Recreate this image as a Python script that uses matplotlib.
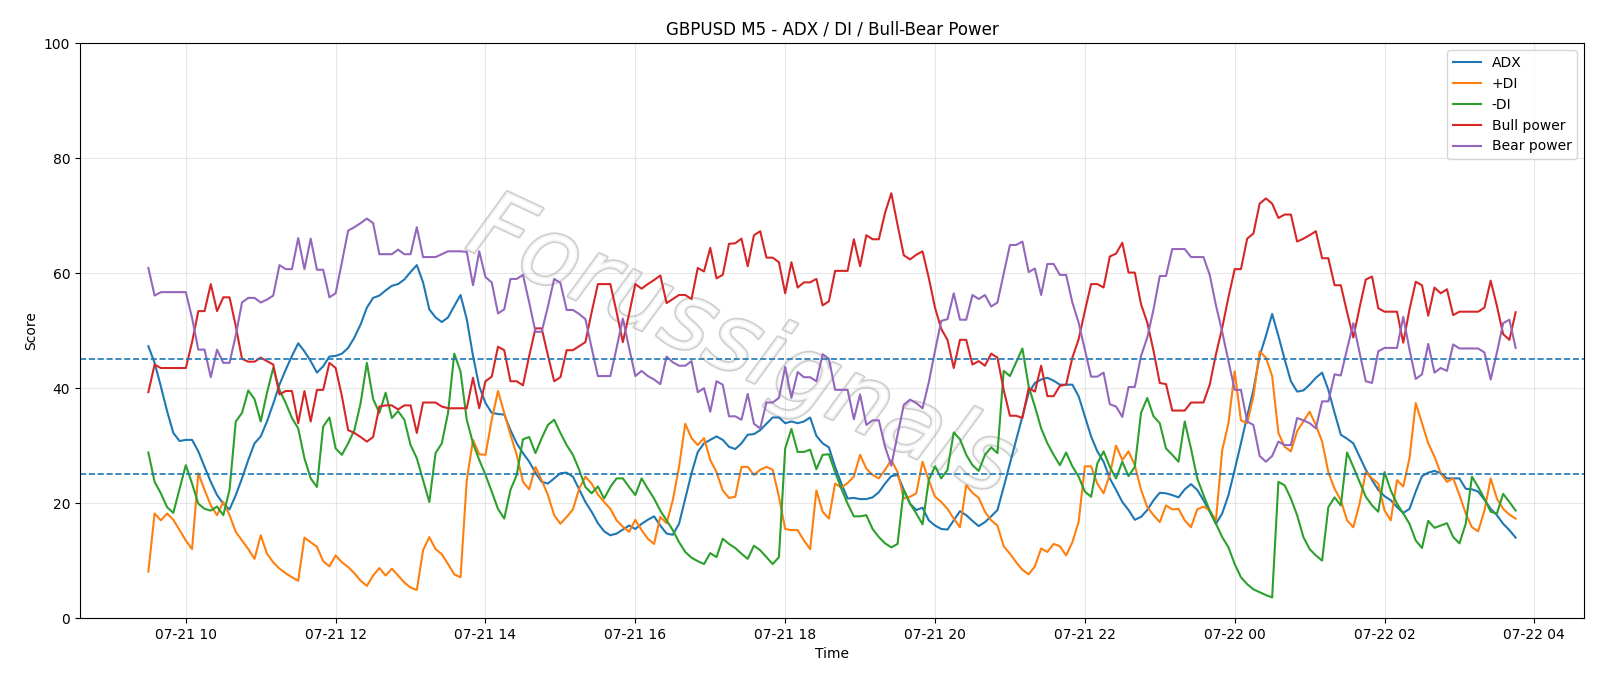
import pandas as pd
import matplotlib.pyplot as plt
import matplotlib.dates as mdates
import matplotlib.patheffects as pe

start_time = '2025-07-21 09:30'
n_bars = 220

adx = [47.3, 44.4, 40.3, 36.0, 32.2, 30.8, 31.0, 31.0, 29.0, 26.3, 23.7, 21.4, 19.9, 18.9, 21.4, 24.3, 27.5, 30.4, 31.6, 34.2,
       37.3, 40.6, 43.2, 45.6, 47.8, 46.4, 44.7, 42.7, 43.8, 45.5, 45.6, 46.0, 47.0, 48.8, 51.1, 54.0, 55.7, 56.1, 57.0, 57.8,
       58.1, 58.9, 60.2, 61.4, 58.4, 53.7, 52.3, 51.5, 52.3, 54.3, 56.2, 52.0, 45.6, 40.3, 37.4, 35.7, 35.5, 35.4, 32.7, 30.4,
       28.7, 27.2, 25.3, 23.7, 23.4, 24.3, 25.2, 25.3, 24.6, 22.4, 20.2, 18.5, 16.5, 15.1, 14.4, 14.7, 15.4, 16.1, 15.5, 16.4,
       17.1, 17.7, 16.1, 14.7, 14.5, 16.4, 20.8, 25.2, 28.9, 30.4, 31.0, 31.6, 31.0, 29.8, 29.4, 30.4, 31.9, 32.0, 32.7, 33.8,
       34.9, 34.9, 33.9, 34.2, 33.9, 34.2, 34.9, 31.7, 30.4, 29.7, 26.3, 23.4, 20.8, 20.9, 20.7, 20.7, 21.0, 21.9, 23.4, 24.7,
       24.9, 22.3, 19.9, 18.8, 19.2, 17.0, 16.1, 15.5, 15.4, 17.0, 18.6, 17.9, 16.9, 16.0, 16.7, 17.7, 18.8, 22.8, 26.9, 31.0,
       35.1, 39.2, 40.9, 41.5, 41.8, 41.3, 40.6, 40.6, 40.6, 38.6, 35.1, 31.6, 29.0, 27.2, 24.3, 22.3, 20.2, 18.8, 17.1, 17.6,
       18.8, 20.5, 21.8, 21.7, 21.4, 21.0, 22.4, 23.3, 22.3, 20.5, 18.5, 16.4, 18.2, 21.4, 25.8, 30.4, 35.1, 39.7, 45.6, 49.1,
       52.9, 49.1, 45.0, 41.2, 39.4, 39.6, 40.6, 41.8, 42.7, 39.7, 35.7, 31.9, 31.2, 30.4, 28.1, 25.8, 24.0, 22.3, 21.2, 20.5,
       19.3, 18.3, 19.0, 22.0, 24.7, 25.3, 25.6, 25.2, 24.3, 24.3, 24.3, 22.5, 22.4, 22.0, 20.6, 19.0, 17.9, 16.4, 15.3, 14.0]

plus_di = [8.1, 18.2, 17.0, 18.2, 17.1, 15.3, 13.5, 12.0, 25.2, 22.3, 19.6, 17.9, 20.2, 17.9, 15.0, 13.5, 12.0, 10.3, 14.4, 11.2,
           9.7, 8.6, 7.8, 7.1, 6.5, 14.0, 13.2, 12.4, 9.9, 9.0, 10.9, 9.7, 8.9, 7.8, 6.5, 5.6, 7.4, 8.7, 7.4, 8.6,
           7.4, 6.2, 5.3, 4.9, 11.8, 14.1, 12.0, 11.1, 9.4, 7.6, 7.1, 24.0, 31.0, 28.5, 28.4, 34.5, 39.5, 35.7, 31.9, 28.4,
           23.7, 22.4, 26.3, 24.0, 21.4, 17.9, 16.4, 17.6, 18.9, 22.5, 24.6, 23.4, 21.5, 20.2, 19.0, 17.0, 15.9, 15.0, 17.1, 15.3,
           13.8, 12.9, 17.6, 16.5, 20.5, 26.3, 33.8, 31.3, 30.1, 31.3, 27.5, 25.4, 22.2, 20.9, 21.1, 26.3, 26.3, 24.9, 25.8, 26.3,
           25.8, 21.1, 15.5, 15.3, 15.3, 13.5, 12.0, 22.2, 18.5, 17.3, 23.4, 22.7, 23.5, 24.6, 28.4, 26.0, 24.9, 24.3, 25.8, 27.5,
           25.4, 20.8, 21.1, 21.7, 27.2, 24.0, 21.1, 20.2, 19.0, 17.3, 15.8, 23.1, 21.8, 20.9, 18.5, 17.0, 16.1, 12.5, 11.2, 9.7,
           8.4, 7.6, 9.0, 12.1, 11.5, 12.9, 12.5, 10.9, 13.2, 16.7, 26.4, 26.4, 23.4, 21.7, 25.0, 30.0, 27.5, 29.0, 26.6, 22.3,
           19.3, 17.9, 16.7, 19.6, 18.9, 19.0, 17.0, 15.8, 18.9, 19.4, 18.7, 17.0, 29.2, 33.9, 42.9, 34.4, 33.9, 38.6, 46.4, 45.3,
           42.1, 32.2, 29.8, 29.0, 32.5, 34.2, 35.9, 33.6, 30.7, 25.4, 22.5, 20.5, 17.0, 15.8, 19.9, 25.4, 24.3, 23.4, 18.7, 17.0,
           24.0, 22.9, 27.8, 37.4, 33.9, 30.4, 28.1, 25.2, 23.7, 24.3, 21.4, 18.2, 15.8, 15.1, 18.7, 24.3, 20.8, 19.0, 18.0, 17.3]

minus_di = [28.8, 23.7, 21.7, 19.3, 18.3, 22.5, 26.6, 23.4, 19.9, 19.0, 18.7, 19.4, 17.9, 22.3, 34.2, 35.7, 39.6, 38.1, 34.2, 39.2,
            43.5, 39.7, 37.4, 34.8, 33.0, 27.8, 24.3, 22.8, 33.3, 34.9, 29.5, 28.4, 30.4, 32.7, 37.4, 44.4, 38.1, 35.7, 39.2, 34.8,
            36.0, 34.5, 30.1, 27.8, 24.0, 20.2, 28.7, 30.4, 35.7, 46.0, 42.9, 34.5, 30.4, 27.5, 24.9, 22.0, 19.0, 17.3, 22.3, 24.9,
            31.1, 31.5, 28.7, 31.3, 33.6, 34.5, 32.2, 30.1, 28.4, 25.8, 22.8, 21.7, 22.9, 20.8, 22.8, 24.3, 24.3, 22.8, 21.4, 24.3,
            22.5, 20.8, 18.7, 17.0, 15.3, 13.2, 11.5, 10.5, 9.9, 9.4, 11.3, 10.6, 13.8, 12.9, 12.2, 11.2, 10.3, 12.6, 11.8, 10.6,
            9.4, 10.6, 29.5, 32.9, 28.9, 28.9, 29.3, 25.9, 28.4, 28.5, 25.4, 22.5, 19.9, 17.7, 17.7, 17.9, 15.5, 14.1, 13.0, 12.3,
            12.9, 22.3, 19.9, 18.2, 16.3, 24.0, 26.4, 24.3, 25.8, 32.3, 31.1, 28.4, 26.6, 25.6, 28.4, 29.7, 28.7, 43.0, 42.1, 44.5,
            46.9, 40.3, 36.8, 33.0, 30.4, 28.4, 26.6, 28.8, 26.4, 24.6, 22.0, 21.1, 26.9, 29.0, 26.3, 24.3, 27.2, 24.7, 26.3, 35.7,
            38.3, 35.1, 33.9, 29.5, 28.4, 27.2, 34.2, 29.5, 24.3, 21.4, 18.7, 16.4, 14.1, 12.3, 9.4, 7.1, 5.9, 5.0, 4.5, 4.0,
            3.6, 23.7, 23.1, 20.8, 17.9, 14.1, 12.0, 10.9, 10.0, 19.3, 21.0, 19.6, 28.8, 26.3, 23.7, 21.1, 19.6, 18.5, 25.4, 22.2,
            19.9, 18.2, 16.4, 13.5, 12.2, 16.9, 15.7, 16.1, 16.5, 14.1, 13.0, 16.4, 24.6, 22.8, 20.8, 18.5, 18.2, 21.6, 20.2, 18.7]

bull_power = [39.3, 44.1, 43.5, 43.5, 43.5, 43.5, 43.5, 48.0, 53.4, 53.4, 58.1, 53.4, 55.8, 55.8, 50.8, 45.1, 44.6, 44.6, 45.3, 44.7,
              44.1, 38.9, 39.5, 39.5, 33.9, 39.5, 34.2, 39.7, 39.7, 44.4, 43.5, 38.6, 32.7, 32.2, 31.5, 30.7, 31.5, 36.8, 37.0, 37.0,
              36.3, 37.0, 37.0, 32.2, 37.5, 37.5, 37.5, 36.8, 36.5, 36.5, 36.5, 36.5, 41.8, 36.5, 41.2, 42.0, 47.2, 46.6, 41.2, 41.2,
              40.5, 45.6, 50.4, 50.4, 45.7, 41.2, 41.9, 46.6, 46.6, 47.3, 48.0, 53.2, 58.1, 58.1, 58.1, 53.2, 48.0, 52.9, 58.1, 57.3,
              58.1, 58.8, 59.6, 54.8, 55.5, 56.2, 56.2, 55.5, 60.9, 60.3, 64.4, 59.1, 59.7, 65.1, 65.2, 66.0, 61.2, 66.6, 67.3, 62.7,
              62.7, 61.9, 56.5, 61.9, 57.5, 58.4, 58.4, 59.0, 54.4, 55.1, 60.4, 60.4, 60.4, 65.9, 61.2, 66.6, 65.9, 65.9, 70.5, 73.9,
              68.4, 63.1, 62.4, 63.2, 63.8, 59.2, 54.0, 50.3, 48.4, 43.5, 48.4, 48.4, 44.1, 44.7, 43.9, 46.0, 45.3, 39.7, 35.2, 35.2,
              34.8, 40.0, 39.4, 43.9, 38.6, 38.6, 40.4, 40.6, 45.3, 48.5, 53.4, 58.1, 58.1, 57.5, 62.9, 63.4, 65.3, 60.1, 60.1, 54.6,
              51.4, 46.5, 40.9, 40.7, 36.1, 36.1, 36.1, 37.5, 37.5, 37.5, 40.6, 45.9, 50.5, 55.8, 60.7, 60.7, 66.0, 66.9, 72.1, 73.0,
              72.1, 69.6, 70.2, 70.2, 65.5, 66.0, 66.6, 67.3, 62.6, 62.6, 57.9, 57.9, 53.2, 48.8, 54.0, 58.9, 59.4, 53.9, 53.3, 53.3,
              53.3, 47.9, 53.7, 58.5, 57.9, 52.6, 57.5, 56.5, 57.2, 52.7, 53.3, 53.3, 53.3, 53.3, 54.0, 58.7, 54.3, 49.4, 48.4, 53.2]

bear_power = [60.9, 56.1, 56.7, 56.7, 56.7, 56.7, 56.7, 52.2, 46.7, 46.7, 41.9, 46.7, 44.4, 44.4, 49.2, 54.9, 55.7, 55.7, 54.9, 55.4,
              56.1, 61.4, 60.7, 60.7, 66.1, 60.7, 66.0, 60.6, 60.6, 55.8, 56.5, 61.9, 67.4, 68.0, 68.7, 69.5, 68.7, 63.3, 63.3, 63.3,
              64.1, 63.3, 63.3, 68.0, 62.8, 62.8, 62.8, 63.3, 63.8, 63.8, 63.8, 63.7, 57.9, 63.8, 59.3, 58.4, 53.0, 53.7, 59.0, 59.0,
              59.7, 54.9, 49.8, 49.8, 54.2, 59.0, 58.3, 53.6, 53.6, 52.9, 52.0, 47.0, 42.1, 42.1, 42.1, 47.0, 52.1, 47.0, 42.1, 43.0,
              42.1, 41.5, 40.7, 45.5, 44.5, 43.9, 43.9, 44.7, 39.3, 40.0, 35.9, 41.2, 40.6, 35.1, 35.1, 34.5, 39.0, 33.8, 33.0, 37.5,
              37.5, 38.3, 43.7, 38.3, 42.8, 41.9, 41.9, 41.2, 45.9, 45.1, 39.7, 39.7, 39.7, 34.6, 38.9, 33.6, 34.4, 34.4, 29.8, 26.5,
              31.9, 37.1, 38.0, 37.4, 36.5, 41.0, 46.5, 51.7, 52.0, 56.5, 51.9, 51.9, 56.2, 55.5, 56.2, 54.2, 54.9, 59.9, 64.9, 64.9,
              65.5, 60.2, 60.8, 56.2, 61.6, 61.6, 59.7, 59.7, 54.9, 51.4, 46.7, 42.0, 42.0, 42.7, 37.2, 36.8, 35.0, 40.2, 40.2, 45.6,
              48.8, 53.7, 59.5, 59.5, 64.2, 64.2, 64.2, 62.8, 62.8, 62.8, 59.7, 54.4, 49.8, 44.7, 39.7, 39.7, 34.2, 33.6, 28.2, 27.2,
              28.2, 30.7, 30.1, 30.1, 34.8, 34.4, 33.9, 33.0, 37.7, 37.7, 42.4, 42.2, 46.8, 51.3, 46.2, 41.2, 40.9, 46.4, 47.0, 47.0,
              47.0, 52.4, 46.7, 41.6, 42.4, 47.7, 42.7, 43.5, 43.0, 47.6, 46.9, 46.9, 46.9, 46.9, 46.2, 41.5, 46.2, 51.3, 51.9, 47.0]

times = pd.date_range(start_time, periods=n_bars, freq='5min')

fig, ax = plt.subplots(figsize=(16, 6.86), dpi=100)
fig.subplots_adjust(left=0.05, right=0.99, top=0.937, bottom=0.099)

# watermark (hollow grey letters behind the lines)
ax.text(0.44, 0.47, 'Forussignals', transform=ax.transAxes, fontsize=68, style='italic',
        color='white', alpha=0.8, rotation=-25, ha='center', va='center', zorder=0,
        path_effects=[pe.withStroke(linewidth=2.5, foreground='#c4c4c4')])

ax.plot(times, adx, label='ADX')
ax.plot(times, plus_di, label='+DI')
ax.plot(times, minus_di, label='-DI')
ax.plot(times, bull_power, label='Bull power')
ax.plot(times, bear_power, label='Bear power')

ax.axhline(25, linestyle='--', linewidth=1.2, color='tab:blue')
ax.axhline(45, linestyle='--', linewidth=1.2, color='tab:blue')

ax.set_ylim(0, 100)
ax.xaxis.set_major_locator(mdates.HourLocator(byhour=range(0, 24, 2)))
ax.xaxis.set_major_formatter(mdates.DateFormatter('%m-%d %H'))
ax.grid(True, alpha=0.3)
ax.set_title('GBPUSD M5 - ADX / DI / Bull-Bear Power')
ax.set_xlabel('Time')
ax.set_ylabel('Score')
ax.legend(loc='upper right')

plt.savefig('out.png')
